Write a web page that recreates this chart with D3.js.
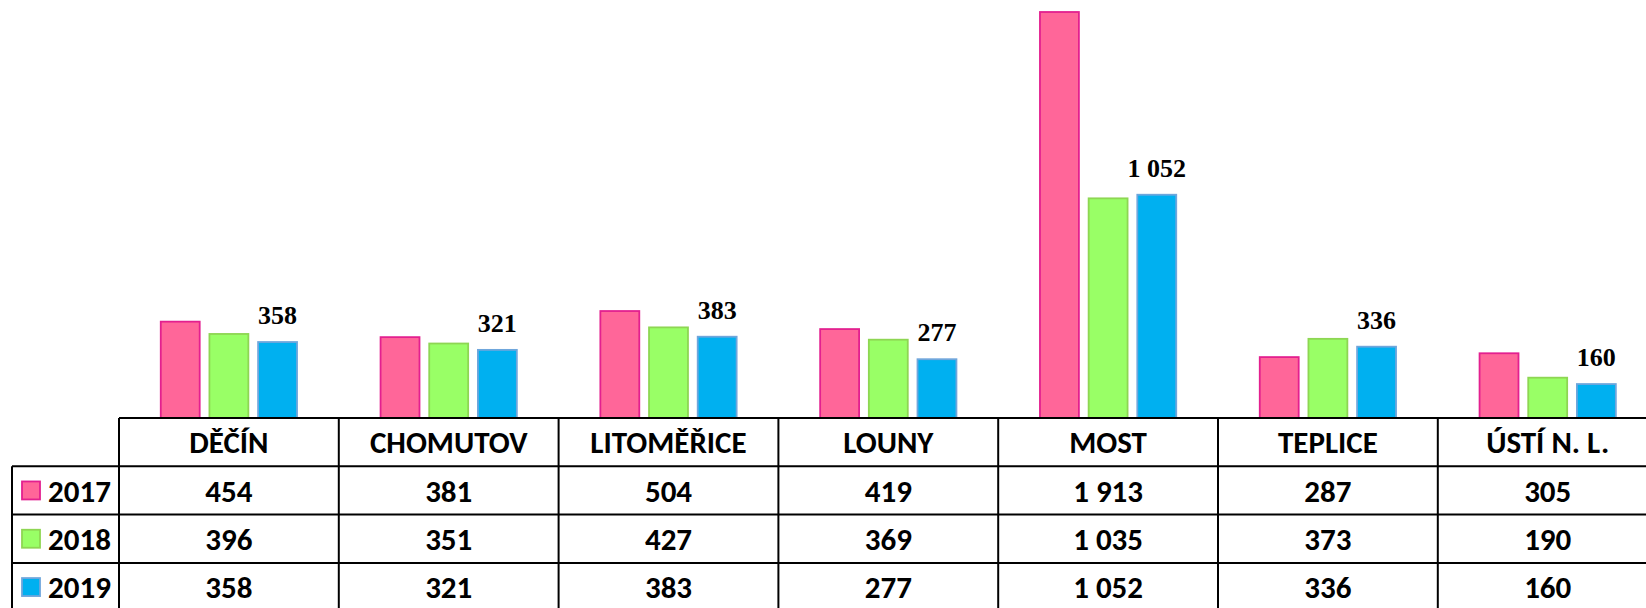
<!DOCTYPE html>
<html>
<head>
<meta charset="utf-8"/>
<title>Okresy</title>
<style>
body { margin: 0; background: #fff; }
svg { display: block; }
.grid line { stroke: #000; stroke-width: 2; }
.cell { font-family: Carlito, Lato, "Open Sans", sans-serif; font-weight: bold; font-size: 31px; fill: #000; }
.lbl { font-family: "Liberation Serif", "DejaVu Serif", serif; font-weight: bold; font-size: 26px; fill: #000; text-anchor: middle; }
</style>
</head>
<body>
<svg width="1646" height="608"></svg>
<script src="https://cdn.jsdelivr.net/npm/d3@7/dist/d3.min.js"></script>
<script>

var districts = ["DĚČÍN", "CHOMUTOV", "LITOMĚŘICE", "LOUNY", "MOST", "TEPLICE", "ÚSTÍ N. L."];
var years = ["2017", "2018", "2019"];
var v2017 = [454, 381, 504, 419, 1913, 287, 305];
var v2018 = [396, 351, 427, 369, 1035, 373, 190];
var v2019 = [358, 321, 383, 277, 1052, 336, 160];
var fills = ["#ff6699", "#99ff66", "#00b0f0"];
var strokes = ["#e3208f", "#8ed653", "#6fa6dc"];

var series = [v2017, v2018, v2019];

var svg = d3.select("svg"),
    left = 119,            // where the category columns start
    colW = 219.8,
    base = 418,            // bar baseline == top of table
    rowH = 48.3,
    tableLeft = 12;

// one column per district, same width as the table cells
var x0 = d3.scaleBand()
    .domain(districts)
    .range([left, left + colW * districts.length]);

var x1 = d3.scaleBand()
    .domain(years)
    .range([colW * 0.19, colW * 0.81])
    .paddingInner(0.2);

var y = d3.scaleLinear()
    .domain([0, 1913])
    .range([base, 12]);

var fmt = function(v) { return d3.format(",")(v).replace(/,/g, " "); };

// bars
var groups = svg.append("g").selectAll("g")
    .data(districts)
    .enter().append("g")
      .attr("transform", function(d) { return "translate(" + x0(d) + ",0)"; });

groups.selectAll("rect")
    .data(function(d, i) { return years.map(function(yr, j) { return {year: yr, j: j, value: series[j][i]}; }); })
    .enter().append("rect")
      .attr("x", function(d) { return x1(d.year); })
      .attr("y", function(d) { return y(d.value); })
      .attr("width", x1.bandwidth())
      .attr("height", function(d) { return base - y(d.value); })
      .style("fill", function(d) { return fills[d.j]; })
      .style("stroke", function(d) { return strokes[d.j]; })
      .style("stroke-width", 1.8);

// labels only on the 2019 bars
groups.append("text")
    .attr("class", "lbl")
    .attr("x", x1("2019") + x1.bandwidth() / 2)
    .attr("y", function(d, i) { return y(v2019[i]) - 18; })
    .text(function(d, i) { return fmt(v2019[i]); });

// data table
var rowY = function(r) { return base + rowH * r; };
var grid = svg.append("g").attr("class", "grid");
var bottom = rowY(4);

grid.append("line").attr("x1", left).attr("x2", 1660).attr("y1", base).attr("y2", base);
d3.range(1, 4).forEach(function(r) {
  grid.append("line").attr("x1", tableLeft).attr("x2", 1660).attr("y1", rowY(r)).attr("y2", rowY(r));
});
grid.append("line").attr("x1", tableLeft).attr("x2", tableLeft).attr("y1", rowY(1)).attr("y2", bottom);
districts.forEach(function(d) {
  grid.append("line").attr("x1", x0(d)).attr("x2", x0(d)).attr("y1", base).attr("y2", bottom);
});

var cx = function(d) { return x0(d) + colW / 2; };

svg.append("g").selectAll("text")
    .data(districts)
    .enter().append("text")
      .attr("class", "cell")
      .attr("text-anchor", "middle")
      .attr("x", cx)
      .attr("y", rowY(0.5))
      .attr("dy", "0.36em")
      .text(function(d) { return d; });

series.forEach(function(vals, j) {
  var row = svg.append("g");
  row.selectAll("text")
      .data(vals)
      .enter().append("text")
        .attr("class", "cell")
        .attr("text-anchor", "middle")
        .attr("x", function(v, i) { return cx(districts[i]); })
        .attr("y", rowY(j + 1.5))
        .attr("dy", "0.36em")
        .text(fmt);

  // legend key + year
  row.append("rect")
      .attr("x", 22).attr("y", rowY(j + 1.5) - 9)
      .attr("width", 18).attr("height", 18)
      .style("fill", fills[j])
      .style("stroke", strokes[j])
      .style("stroke-width", 1.8);
  row.append("text")
      .attr("class", "cell")
      .attr("x", 48)
      .attr("y", rowY(j + 1.5))
      .attr("dy", "0.36em")
      .text(years[j]);
});

</script>
</body>
</html>
